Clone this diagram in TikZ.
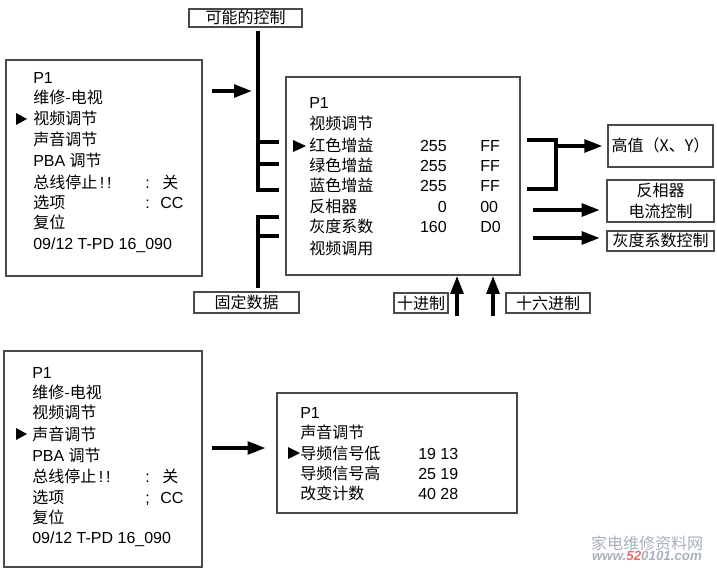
\documentclass[tikz,border=0pt]{standalone}
\usepackage{fontspec}
\setmainfont{Liberation Sans}
\newfontfamily\cjk{Noto Sans CJK SC}
\usetikzlibrary{arrows.meta,fit}
\definecolor{boxgray}{HTML}{4A4A4A}
\definecolor{wmgray}{HTML}{A8B0BC}
\definecolor{wmred}{HTML}{E07070}
\begin{document}
\begin{tikzpicture}[x=0.75pt,y=-0.75pt,
  txt/.style={anchor=west,inner sep=0pt,text height=10pt,text depth=1pt,font=\fontsize{12}{14}\selectfont},
  txtr/.style={txt,anchor=east},
  txtc/.style={txt,anchor=center,font=\fontsize{12}{14}\selectfont\cjk},
  menubox/.style={draw=boxgray,line width=1.2pt,inner sep=0pt},
  lblbox/.style={draw=boxgray,line width=0.9pt,inner sep=0pt},
  brk/.style={line width=2.4pt,line cap=rect},
  arr/.style={line width=2.7pt,-{Triangle[length=13.5pt,width=9.5pt]}},
  tri/.style={fill=black}]
\useasboundingbox (0,0) rectangle (717,570);

% ---------- top-left menu ----------
\node[menubox,fit={(6,60)(202,276)}] (m1) {};
\fill[tri] (16,113) -- (27,119) -- (16,125) -- cycle;
\node[txt] (a1) at (33,78) {P1};
\node[txt] (a2) at (33,98) {\cjk 维修-电视};
\node[txt] (a3) at (33,119) {\cjk 视频调节};
\node[txt] (a4) at (33,140) {\cjk 声音调节};
\node[txt] (a5) at (33,161) {PBA {\cjk 调节}};
\node[txt] (a6) at (33,183) {{\cjk 总线停止}\,!\,!};
\node[txt] (a6c) at (145,183) {:};
\node[txt] (a6v) at (162,183) {\cjk 关};
\node[txt] (a7) at (33,203) {\cjk 选项};
\node[txt] (a7c) at (145,203) {:};
\node[txt] (a7v) at (160,203) {CC};
\node[txt] (a8) at (33,223) {\cjk 复位};
\node[txt] (a9) at (33,243) {09/12 T-PD 16\_090};

\coordinate (p1s) at (212,91);
\coordinate (p1e) at (252,91);
\draw[arr] (p1s) -- (p1e);

% ---------- labels ----------
\node[lblbox,fit={(189,9)(302,27)}] (lk) {};
\node[txtc] (lkt) at (lk.center) {可能的控制};
\node[lblbox,fit={(194,292)(299,313)}] (lf) {};
\node[txtc] (lft) at (lf.center) {固定数据};
\node[lblbox,fit={(394,293)(448,313)}] (ld) {};
\node[txtc] (ldt) at (ld.center) {十进制};
\node[lblbox,fit={(506,293)(590,313)}] (lh) {};
\node[txtc] (lht) at (lh.center) {十六进制};
\node[lblbox,fit={(608,125)(713,167)}] (hv) {};
\node[txtc] (hvt) at (hv.center) {高值（X、Y）};
\node[lblbox,fit={(607,180)(714,222)}] (fx) {};
\node[txtc] (fxt1) at (660.5,191) {反相器};
\node[txtc] (fxt2) at (660.5,212) {电流控制};
\node[lblbox,fit={(607,231)(714,251)}] (gx) {};
\node[txtc] (gxt) at (gx.center) {灰度系数控制};

% ---------- main menu ----------
\node[menubox,fit={(286,77)(520,275)}] (m2) {};
\fill[tri] (293,140) -- (306,146) -- (293,152) -- cycle;
\node[txt] (b1) at (309,103) {P1};
\node[txt] (b2) at (309,124) {\cjk 视频调节};
\node[txt] (b3) at (309,146) {\cjk 红色增益};
\node[txt] (b4) at (309,166) {\cjk 绿色增益};
\node[txt] (b5) at (309,186) {\cjk 蓝色增益};
\node[txt] (b6) at (309,207) {\cjk 反相器};
\node[txt] (b7) at (309,227) {\cjk 灰度系数};
\node[txt] (b8) at (309,248) {\cjk 视频调用};
\node[txtr] (n3) at (447,146) {255};
\node[txtr] (n4) at (447,166) {255};
\node[txtr] (n5) at (447,186) {255};
\node[txtr] (n6) at (447,207) {0};
\node[txtr] (n7) at (447,227) {160};
\node[txt] (h3) at (480,146) {FF};
\node[txt] (h4) at (480,166) {FF};
\node[txt] (h5) at (480,186) {FF};
\node[txt] (h6) at (480,207) {00};
\node[txt] (h7) at (480,227) {D0};

% ---------- left brackets ----------
\coordinate (k0) at (258,33);
\coordinate (k1) at (277,142);
\coordinate (k2) at (277,164);
\coordinate (k3) at (277,190);
\draw[brk] (k0) |- (k3);
\draw[brk] (k0|-k1) -- (k1);
\draw[brk] (k0|-k2) -- (k2);
\coordinate (f0) at (258,286);
\coordinate (f1) at (277,217);
\coordinate (f2) at (277,236);
\draw[brk] (f0) |- (f1);
\draw[brk] (f0|-f2) -- (f2);

% ---------- right side ----------
\coordinate (r1) at (529,140);
\coordinate (r2) at (529,189);
\coordinate (r3) at (556,146);
\draw[brk] (r1) -- (r1-|r3) |- (r2);
\draw[arr,shorten >=3.75pt] (r3) -- (r3-|hv.west);
\coordinate (c2) at (533,210);
\coordinate (c3) at (533,238);
\draw[arr,shorten >=5pt] (c2) -- (c2-|fx.west);
\draw[arr,shorten >=5pt] (c3) -- (c3-|gx.west);

% ---------- up arrows ----------
\coordinate (u1) at (457,316);
\coordinate (u2) at (493,316);
\draw[arr] (u1) -- (u1|-m2.south);
\draw[arr] (u2) -- (u2|-m2.south);

% ---------- bottom-left menu ----------
\node[menubox,fit={(4,351)(202,567)}] (m3) {};
\fill[tri] (16,428) -- (27,434) -- (16,440) -- cycle;
\node[txt] (c1) at (32,372) {P1};
\node[txt] (cc2) at (32,392) {\cjk 维修-电视};
\node[txt] (cc3) at (32,412) {\cjk 视频调节};
\node[txt] (cc4) at (32,434) {\cjk 声音调节};
\node[txt] (cc5) at (32,455) {PBA {\cjk 调节}};
\node[txt] (cc6) at (32,476) {{\cjk 总线停止}\,!\,!};
\node[txt] (cc6c) at (145,476) {:};
\node[txt] (cc6v) at (162,476) {\cjk 关};
\node[txt] (cc7) at (32,497) {\cjk 选项};
\node[txt] (cc7c) at (145,497) {;};
\node[txt] (cc7v) at (160,497) {CC};
\node[txt] (cc8) at (32,517) {\cjk 复位};
\node[txt] (cc9) at (32,537) {09/12 T-PD 16\_090};

\node[menubox,fit={(277,393)(517,513)}] (m4) {};
\coordinate (p3s) at (212,448);
\draw[arr,shorten >=8pt] (p3s) -- (p3s-|m4.west);
\fill[tri] (288,447) -- (300,453) -- (288,459) -- cycle;
\node[txt] (d1) at (300,412) {P1};
\node[txt] (d2) at (300,432) {\cjk 声音调节};
\node[txt] (d3) at (300,453) {\cjk 导频信号低};
\node[txt] (d4) at (300,473) {\cjk 导频信号高};
\node[txt] (d5) at (300,493) {\cjk 改变计数};
\node[txt] (e3) at (418,453) {19 13};
\node[txt] (e4) at (418,473) {25 19};
\node[txt] (e5) at (418,493) {40 28};

% ---------- watermark ----------
\node[anchor=center,inner sep=0pt,text=wmgray,font=\fontsize{12}{14}\selectfont\cjk] (w1) at (647,543) {家电维修资料网};
\node[anchor=center,inner sep=0pt,text=wmgray,font=\fontsize{10}{12}\selectfont\bfseries\itshape] (w2) at (647,556) {www.\textcolor{wmred}{52}0101.com};
\end{tikzpicture}
\end{document}
